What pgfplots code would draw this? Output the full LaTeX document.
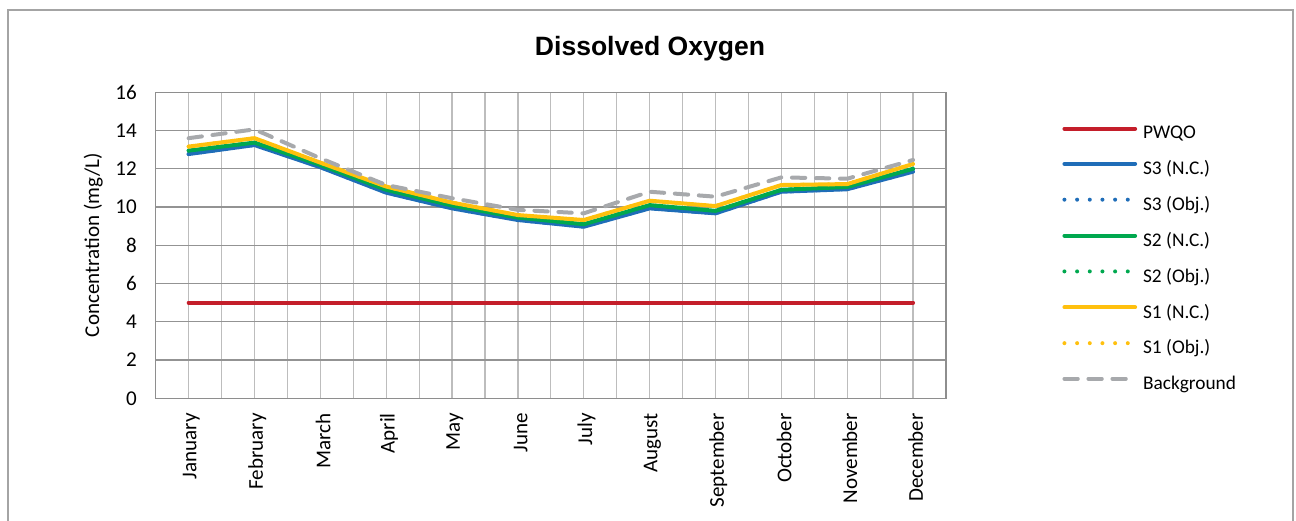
\documentclass[border=0pt]{standalone}
\usepackage{pgfplots}
\pgfplotsset{compat=1.18}
\usepackage{fontspec}
\setmainfont{Carlito}
\newfontfamily\titlefont{Liberation Sans}

\definecolor{cRed}{HTML}{C41E2A}
\definecolor{cBlue}{HTML}{1F6DB8}
\definecolor{cGreen}{HTML}{00A84F}
\definecolor{cYellow}{HTML}{FFC00E}
\definecolor{cGray}{HTML}{A7A9AC}
\definecolor{cGridV}{HTML}{BDBDBD}
\definecolor{cGridH}{HTML}{939393}
\definecolor{cFrame}{HTML}{8E8E8E}

% monthly values, one row per month (0 = January)
\pgfplotstableread{
m  pwqo  s3    s2    s1    bg
0  5     12.77 12.95 13.16 13.60
1  5     13.24 13.37 13.60 14.06
2  5     12.08 12.20 12.32 12.55
3  5     10.75 10.90 11.07 11.15
4  5     9.93  10.08 10.23 10.46
5  5     9.32  9.45  9.58  9.85
6  5     8.97  9.10  9.32  9.67
7  5     9.93  10.10 10.33 10.80
8  5     9.67  9.80  10.05 10.54
9  5     10.80 10.90 11.15 11.55
10 5     10.93 11.05 11.20 11.48
11 5     11.85 12.00 12.25 12.46
}\dodata

\begin{document}
\begin{tikzpicture}
\useasboundingbox (0pt,0pt) rectangle (972pt,-390.75pt);
\draw[cFrame!80, line width=0.9pt] (6pt,-395pt) -- (6pt,-7.5pt) -- (969.75pt,-7.5pt) -- (969.75pt,-395pt);
\node[anchor=base, font=\titlefont\bfseries\fontsize{19.9}{24}\selectfont] at (487.5pt,-41.25pt) {Dissolved Oxygen};

\begin{axis}[
    at={(116.8pt,-298.7pt)}, anchor=south west,
    scale only axis,
    width=592.7pt, height=229.5pt,
    xmin=-0.5, xmax=11.5,
    ymin=0, ymax=16,
    xtick={0,...,11},
    minor xtick={-0.5,0.5,...,11.5},
    xticklabels={January,February,March,April,May,June,July,August,September,October,November,December},
    ytick={0,2,...,16},
    major tick length=0pt, minor tick length=0pt,
    grid=both,
    major grid style={line width=0.9pt},
    minor grid style={line width=0.9pt},
    every axis x grid/.style={cGridV},
    every axis y grid/.style={cGridH},
    axis line style={cFrame, line width=1pt},
    /pgf/number format/assume math mode=true,
    xticklabel style={rotate=90, anchor=east, inner sep=0pt, xshift=-11pt, yshift=-2pt,
        font=\fontsize{15.8}{18}\selectfont},
    yticklabel style={inner sep=0pt, xshift=-14pt, font=\fontsize{15.8}{18}\selectfont},
    ylabel={Concentration (mg/L)},
    ylabel style={at={(axis description cs:-0.0717,0.5)}, anchor=base, rotate=0,
        inner sep=0pt, font=\fontsize{15.8}{18}\selectfont},
    legend style={at={(1.147,0.899)}, anchor=north west, draw=none, fill=none,
        inner sep=0pt, row sep=10.8pt, column sep=2.5pt,
        font=\fontsize{14.5}{17}\selectfont},
    legend cell align=left,
    legend image code/.code={\draw[#1] (0pt,3.5pt) -- (53pt,3.5pt);},
    every axis plot/.append style={line width=3pt, line join=round, line cap=round},
]
\addplot[cRed] table[x=m, y=pwqo] {\dodata};
\addlegendentry{PWQO}
\addplot[cBlue] table[x=m, y=s3] {\dodata};
\addlegendentry{S3 (N.C.)}
\addplot[cBlue, dash pattern=on 0pt off 9.5pt] table[x=m, y=s3] {\dodata};
\addlegendentry{S3 (Obj.)}
\addplot[cGreen] table[x=m, y=s2] {\dodata};
\addlegendentry{S2 (N.C.)}
\addplot[cGreen, dash pattern=on 0pt off 9.5pt] table[x=m, y=s2] {\dodata};
\addlegendentry{S2 (Obj.)}
\addplot[cYellow] table[x=m, y=s1] {\dodata};
\addlegendentry{S1 (N.C.)}
\addplot[cYellow, dash pattern=on 0pt off 9.5pt] table[x=m, y=s1] {\dodata};
\addlegendentry{S1 (Obj.)}
\addplot[cGray, dash pattern=on 10pt off 8pt] table[x=m, y=bg] {\dodata};
\addlegendentry{Background}
\end{axis}
\end{tikzpicture}
\end{document}
